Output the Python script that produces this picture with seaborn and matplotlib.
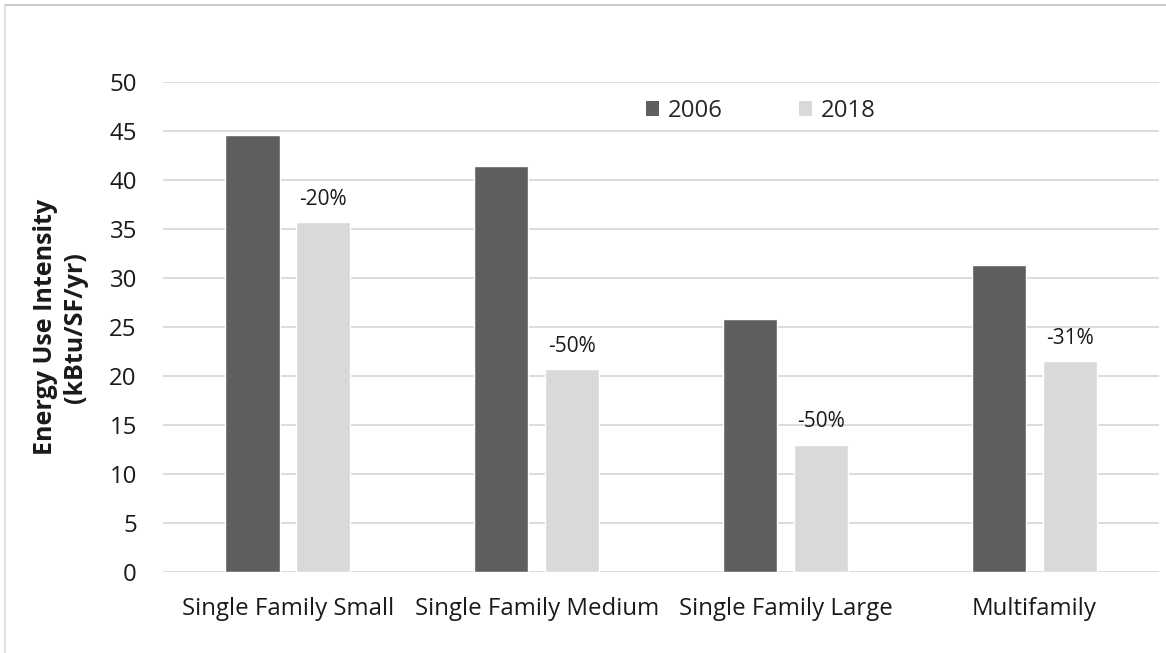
import pandas as pd
import matplotlib.pyplot as plt
import seaborn as sns
from matplotlib.patches import Patch
from matplotlib.lines import Line2D

categories = ["Single Family Small", "Single Family Medium", "Single Family Large", "Multifamily"]
years = ["2006", "2018"]
eui_2006 = [44.6, 41.5, 25.8, 31.3]
eui_2018 = [35.7, 20.7, 13.0, 21.5]
reduction_labels = ["-20%", "-50%", "-50%", "-31%"]
bar_colors = ["#5f5f5f", "#d9d9d9"]

df = pd.DataFrame({
    "category": categories * 2,
    "year": [years[0]] * 4 + [years[1]] * 4,
    "eui": eui_2006 + eui_2018,
})

sns.set_style("white")
plt.rcParams["font.family"] = ["Open Sans", "DejaVu Sans"]

fig = plt.figure(figsize=(11.66, 6.53), dpi=100)
ax = fig.add_axes([0.14, 0.124, 0.854, 0.75])

sns.barplot(data=df, x="category", y="eui", hue="year", palette=bar_colors,
            width=0.57, gap=0.23, ax=ax, legend=False, saturation=1)

ax.set_ylim(0, 50)
ax.set_yticks(range(0, 51, 5))
ax.yaxis.grid(True, color="#d9d9d9", linewidth=1.3)
ax.set_axisbelow(True)
for s in ax.spines.values():
    s.set_visible(False)
ax.tick_params(axis="both", length=0, labelsize=17.3, colors="#1a1a1a")
ax.tick_params(axis="x", pad=18)
ax.tick_params(axis="y", pad=19)
ax.set_xlabel("")
ax.set_ylabel("Energy Use Intensity\n(kBtu/SF/yr)", fontsize=18, fontweight="bold",
              color="#1a1a1a", linespacing=1.25)
ax.yaxis.set_label_coords(-0.076, 0.5)

ax.bar_label(ax.containers[1], labels=reduction_labels, padding=9, fontsize=15, color="#1a1a1a")

handles = [Patch(facecolor=c, edgecolor="none") for c in bar_colors]
ax.legend(handles, years, loc="upper center", bbox_to_anchor=(0.6, 1.01), ncol=2,
          frameon=False, fontsize=17.3, handlelength=0.55, handleheight=0.55,
          columnspacing=3.2, handletextpad=0.35)

# thin frame around the chart area (top and left visible in reference)
fig.add_artist(Line2D([5 / 1166, 1.0], [1 - 5 / 653] * 2, transform=fig.transFigure,
                      color="#bfbfbf", linewidth=1.2))
fig.add_artist(Line2D([5 / 1166] * 2, [0.0, 1 - 5 / 653], transform=fig.transFigure,
                      color="#d9d9d9", linewidth=1.2))

fig.savefig("out.png", dpi=100)
